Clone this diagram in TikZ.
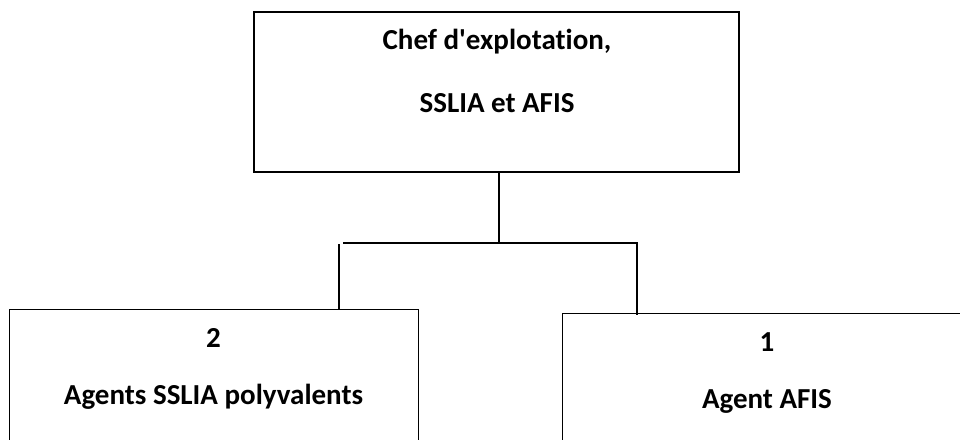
\documentclass[tikz,border=0pt]{standalone}
\usepackage{fontspec}
\setmainfont{Carlito}[Ligatures=NoCommon]
\usetikzlibrary{positioning}

\begin{document}
\begin{tikzpicture}[x=1pt,y=-1pt,
    caja/.style={draw,line width=1.3pt,inner sep=0pt},
    texto/.style={font=\bfseries\fontsize{29}{34}\selectfont,anchor=base,inner sep=0pt}]
    \useasboundingbox (0,0) rectangle (960,439);
    \clip (0,0) rectangle (960,439);

    % Caja superior
    \node[caja,minimum width=485pt,minimum height=160pt] (chef) at (496.5,92) {};
    \node[texto] (chefa) at (497,49) {Chef d\textquotesingle explotation,};
    \node[texto] (chefb) at (497,112) {SSLIA et AFIS};

    % Cajas inferiores (cortadas por abajo)
    \node[caja,minimum width=409pt,minimum height=200pt,anchor=north west] (sslia) at (9,309) {};
    \node[texto] (ssliaa) at (213.5,347) {2};
    \node[texto] (ssliab) at (213.5,404) {Agents SSLIA polyvalents};

    \node[caja,minimum width=410pt,minimum height=200pt,anchor=north west] (afis) at (562,313) {};
    \node[texto] (afisa) at (767,351) {1};
    \node[texto] (afisb) at (767,408) {Agent AFIS};

    % Conectores
    \coordinate (rama) at (499,243);
    \coordinate (ramai) at (339,244);
    \coordinate (ramad) at (637,243);
    \draw[line width=1.3pt] (chef.south -| rama) -- (rama);
    \draw[line width=1.3pt] (343,243) -- (638,243);
    \draw[line width=1.3pt] (ramai) -- (ramai |- sslia.north);
    \draw[line width=1.3pt] (ramad) -- ([yshift=-2pt]ramad |- afis.north);
\end{tikzpicture}
\end{document}
